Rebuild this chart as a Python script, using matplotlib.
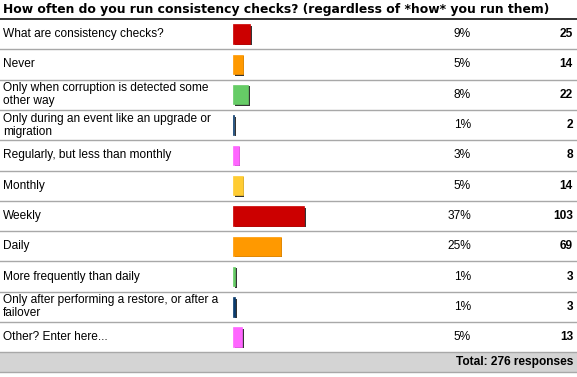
import matplotlib.pyplot as plt
import matplotlib.patheffects as pe

# survey answers
labels = [
    'What are consistency checks?',
    'Never',
    'Only when corruption is detected some\nother way',
    'Only during an event like an upgrade or\nmigration',
    'Regularly, but less than monthly',
    'Monthly',
    'Weekly',
    'Daily',
    'More frequently than daily',
    'Only after performing a restore, or after a\nfailover',
    'Other? Enter here...',
]
percents = [9, 5, 8, 1, 3, 5, 37, 25, 1, 1, 5]
counts = [25, 14, 22, 2, 8, 14, 103, 69, 3, 3, 13]
total = 276
palette = ['#cc0000', '#ff9900', '#66cc66', '#0b3c6e', '#ff66ff', '#ffcc33']
colors = [palette[i % len(palette)] for i in range(len(counts))]

W, H = 577, 377
fig = plt.figure(figsize=(W / 100, H / 100), dpi=100)
fig.patch.set_facecolor('white')

# full-figure axes in pixel units for text and rules
ax = fig.add_axes([0, 0, 1, 1])
ax.set_xlim(0, W)
ax.set_ylim(H, 0)
ax.axis('off')

top = 19
row_h = 30.3
n = len(labels)
fs = 8.6

ax.text(3, 9, 'How often do you run consistency checks? (regardless of *how* you run them)',
        fontsize=8.95, fontweight='bold', family='DejaVu Sans', va='center', ha='left')
ax.plot([0, W], [top, top], color='#222222', lw=1.3)

for i, (lab, p, c) in enumerate(zip(labels, percents, counts)):
    yc = top + row_h * (i + 0.5)
    ax.text(3, yc, lab, fontsize=fs, family='Liberation Sans', va='center', ha='left',
            linespacing=1.1)
    ax.text(471, yc, f'{p}%', fontsize=fs, family='Liberation Sans', va='center', ha='right')
    ax.text(573, yc, str(c), fontsize=fs, family='Liberation Sans', fontweight='bold',
            va='center', ha='right')
    yb = top + row_h * (i + 1)
    ax.plot([0, W], [yb, yb], color='#a8a8a8', lw=1.0)

# total band
band_top = top + row_h * n
ax.fill_between([0, W], band_top, band_top + 20, color='#d4d4d4', lw=0)
ax.plot([0, W], [band_top + 20, band_top + 20], color='#a8a8a8', lw=1.0)
ax.text(573, band_top + 10, f'Total: {total} responses', fontsize=fs,
        family='Liberation Sans', fontweight='bold', va='center', ha='right')

# bar axes, counts scaled by the axis
bx_left, bx_width = 233, 120
px_per_count = 0.69
bax = fig.add_axes([bx_left / W, 1 - band_top / H, bx_width / W, (band_top - top) / H])
bax.set_xlim(0, bx_width / px_per_count)
bax.set_ylim(n - 0.5, -0.5)
bax.axis('off')
bars = bax.barh(range(n), counts, height=0.64, color=colors, edgecolor=colors, lw=0.5)
for b in bars:
    b.set_path_effects([pe.SimplePatchShadow(offset=(1.3, -1.0), shadow_rgbFace='#111111',
                                             alpha=0.85), pe.Normal()])

fig.savefig('out.png', dpi=100)
